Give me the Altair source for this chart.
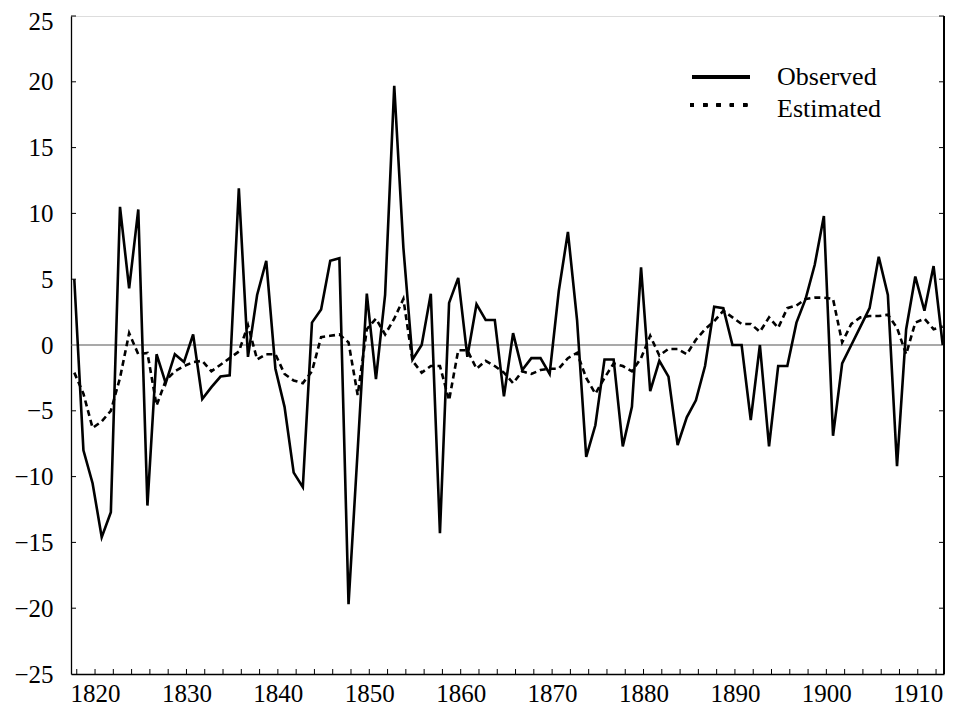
import altair as alt
import pandas as pd

# ---- data ----
years = list(range(1818, 1914))  # 96 annual points

observed = [5.0, -8.0, -10.5, -14.6, -12.7, 10.5, 4.3, 10.3, -12.2, -0.7,
            -2.9, -0.7, -1.3, 0.8, -4.1, -3.2, -2.4, -2.3, 11.9, -0.9,
            3.8, 6.4, -1.8, -4.7, -9.7, -10.8, 1.7, 2.7, 6.4, 6.6,
            -19.7, -8.0, 3.9, -2.6, 3.8, 19.7, 7.4, -1.1, 0.0, 3.9,
            -14.3, 3.2, 5.1, -0.9, 3.1, 1.9, 1.9, -3.9, 0.9, -1.9,
            -1.0, -1.0, -2.2, 4.1, 8.6, 1.9, -8.5, -6.1, -1.1, -1.1,
            -7.7, -4.7, 5.9, -3.5, -1.2, -2.4, -7.6, -5.5, -4.2, -1.6,
            2.9, 2.8, 0.0, 0.0, -5.7, 0.0, -7.7, -1.6, -1.6, 1.7,
            3.5, 6.1, 9.8, -6.9, -1.4, 0.0, 1.4, 2.8, 6.7, 3.8,
            -9.2, 1.2, 5.2, 2.6, 6.0, 0.0]

estimated = [-2.1, -3.7, -6.3, -5.8, -5.0, -2.5, 0.9, -0.7, -0.6, -4.6,
             -2.7, -2.0, -1.6, -1.3, -1.2, -2.0, -1.5, -1.0, -0.5, 1.5,
             -1.1, -0.7, -0.7, -2.2, -2.7, -2.9, -2.0, 0.6, 0.7, 0.8,
             0.2, -3.8, 1.2, 2.0, 0.8, 2.0, 3.5, -1.2, -2.1, -1.6,
             -1.6, -4.2, -0.4, -0.4, -1.8, -1.2, -1.6, -2.1, -2.9, -2.0,
             -2.2, -1.9, -1.8, -1.8, -1.0, -0.6, -2.5, -3.7, -2.5, -1.4,
             -1.6, -2.0, -1.0, 0.7, -0.8, -0.3, -0.3, -0.7, 0.4, 1.2,
             1.8, 2.6, 2.1, 1.6, 1.6, 1.0, 2.1, 1.3, 2.8, 3.0,
             3.5, 3.6, 3.6, 3.5, 0.2, 1.6, 2.1, 2.2, 2.2, 2.3,
             1.3, -0.7, 1.7, 2.0, 1.2, 1.4]

x_label_years = list(range(1820, 1911, 10))
x_tick_years = list(range(1818, 1913, 2))
y_label_values = list(range(-25, 26, 5))
y_tick_values = [-20, -15, -10, -5, 5, 10, 15, 20, 25]
legend_labels = ["Observed", "Estimated"]

df = pd.DataFrame({"year": years, "observed": observed, "estimated": estimated})

W = 873
H = 658
FONT = "Liberation Serif"
FS = 25

xscale = alt.Scale(domain=[1817.37, 1912.87], nice=False, zero=False)
yscale = alt.Scale(domain=[-25, 25], nice=False, zero=False)

xaxis = alt.Axis(values=x_label_years, ticks=False, tickSize=0, grid=False, title=None,
                 labelFont=FONT, labelFontSize=FS, labelColor="black", labelPadding=7,
                 domainColor="black", domainWidth=1.3, format="d",
                 labelFlush=False, labelOverlap=False)
yaxis = alt.Axis(values=y_label_values, ticks=False, tickSize=0, grid=False, title=None,
                 labelFont=FONT, labelFontSize=FS, labelColor="black", labelPadding=18,
                 labelOffset={"condition": {"test": "datum.value == 25", "value": 5}, "value": 0},
                 domainColor="black", domainWidth=1.3, format="d",
                 labelFlush=False, labelOverlap=False)

base = alt.Chart(df).transform_calculate(pos="datum.year - 0.27")

zero = alt.Chart(pd.DataFrame({"z": [0]})).mark_rule(color="#555555", strokeWidth=1.1).encode(
    y=alt.Y("z:Q", scale=yscale, axis=yaxis))

solid = base.mark_line(color="black", strokeWidth=2.6, strokeJoin="miter").encode(
    x=alt.X("pos:Q", scale=xscale, axis=xaxis),
    y=alt.Y("observed:Q", scale=yscale, axis=yaxis))

dashed = base.mark_line(color="black", strokeWidth=2.6, strokeDash=[6, 4]).encode(
    x=alt.X("pos:Q", scale=xscale, axis=xaxis),
    y=alt.Y("estimated:Q", scale=yscale, axis=yaxis))

xt = alt.Chart(pd.DataFrame({"t": x_tick_years})).mark_rule(color="black", strokeWidth=1).encode(
    x=alt.X("t:Q", scale=xscale, axis=xaxis), y=alt.value(H), y2=alt.value(H - 5))

yt = pd.DataFrame({"v": y_tick_values})
lt = alt.Chart(yt).mark_rule(color="black", strokeWidth=1).encode(
    y=alt.Y("v:Q", scale=yscale, axis=yaxis), x=alt.value(0), x2=alt.value(5))
rt = alt.Chart(yt).mark_rule(color="black", strokeWidth=1).encode(
    y=alt.Y("v:Q", scale=yscale, axis=yaxis), x=alt.value(W), x2=alt.value(W - 5))
rline = alt.Chart(yt).mark_rule(color="black", strokeWidth=1.3).encode(
    x=alt.value(W), y=alt.value(0), y2=alt.value(H))

# legend (manual)
leg_solid = alt.Chart(yt).mark_rule(color="black", strokeWidth=3).encode(
    x=alt.value(621), x2=alt.value(679), y=alt.value(61))
leg_dash = alt.Chart(yt).mark_rule(color="black", strokeWidth=3, strokeDash=[4, 9.3]).encode(
    x=alt.value(619), x2=alt.value(679), y=alt.value(89))
leg_t1 = alt.Chart(pd.DataFrame({"l": [legend_labels[0]]})).mark_text(
    font=FONT, fontSize=26, align="left", baseline="middle", color="black").encode(
    text="l:N", x=alt.value(706), y=alt.value(61))
leg_t2 = alt.Chart(pd.DataFrame({"l": [legend_labels[1]]})).mark_text(
    font=FONT, fontSize=26, align="left", baseline="middle", color="black").encode(
    text="l:N", x=alt.value(706), y=alt.value(93))

chart = alt.layer(zero, dashed, solid, xt, lt, rt, rline,
                  leg_solid, leg_dash, leg_t1, leg_t2).properties(
    width=W, height=H,
    autosize=alt.AutoSizeParams(type="none"),
    padding={"left": 63, "top": 8, "right": 1, "bottom": 33},
).configure_view(stroke=None).configure(background="white")

chart.save("out.html", embed_options={"renderer": "svg", "actions": False})
